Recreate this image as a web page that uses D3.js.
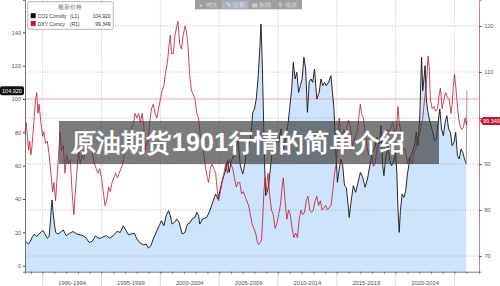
<!DOCTYPE html>
<html><head><meta charset="utf-8">
<script src="https://cdn.jsdelivr.net/npm/d3@7"></script>
<style>body{margin:0;background:#fff}svg{display:block}text{font-family:"Liberation Sans",Arial,sans-serif}</style>
</head><body><svg id="c" width="500" height="286"></svg>
<script>
// CO1 Comdty (left axis) — [decimal year, price]
const coData=[
[1988.5,15],[1988.65,14],[1988.8,13],[1988.95,14.5],[1989.1,17],[1989.3,19],[1989.5,17.5],[1989.7,19],[1989.9,20.5],[1990.05,21],[1990.2,19],[1990.4,16.5],[1990.55,17.5],[1990.65,26],[1990.75,36],[1990.8,39.5],[1990.9,31],[1991.0,25],[1991.1,20],[1991.3,19],[1991.5,20],[1991.75,21.5],[1992.0,18],[1992.3,19.5],[1992.6,20.5],[1992.9,19],[1993.2,18.5],[1993.45,18],[1993.7,16.5],[1993.95,14],[1994.2,14.5],[1994.5,18],[1994.7,16.5],[1994.9,16.5],[1995.2,17.5],[1995.4,18],[1995.7,16.5],[1996.0,18],[1996.3,20.5],[1996.6,20],[1996.85,24],[1997.1,21],[1997.3,18.5],[1997.5,19],[1997.8,19.5],[1998.0,16],[1998.3,13.5],[1998.6,12.5],[1998.8,13],[1999.0,10.5],[1999.2,12],[1999.4,16],[1999.7,21],[1999.9,24],[2000.1,27],[2000.3,24],[2000.5,30],[2000.7,33],[2000.85,30],[2001.0,25],[2001.2,26],[2001.4,28],[2001.6,26],[2001.85,19],[2002.1,20],[2002.3,25],[2002.5,25.5],[2002.7,28],[2002.95,29],[2003.1,32],[2003.25,30],[2003.35,25],[2003.6,28],[2003.95,29],[2004.2,33],[2004.45,38],[2004.7,43],[2004.9,40],[2005.1,46],[2005.3,52],[2005.5,56],[2005.7,63],[2005.85,56],[2006.0,62],[2006.2,66],[2006.4,71],[2006.6,75],[2006.8,60],[2007.0,55],[2007.1,58],[2007.3,67],[2007.5,72],[2007.7,78],[2007.85,92],[2008.0,94],[2008.15,100],[2008.3,112],[2008.45,130],[2008.55,145],[2008.65,125],[2008.75,95],[2008.85,62],[2008.95,42],[2009.08,44],[2009.2,48],[2009.35,58],[2009.5,68],[2009.7,70],[2009.9,76],[2010.05,74],[2010.25,82],[2010.45,70],[2010.65,77],[2010.85,85],[2011.0,95],[2011.15,105],[2011.3,122],[2011.45,112],[2011.6,116],[2011.75,104],[2011.9,108],[2012.05,112],[2012.2,125],[2012.35,118],[2012.5,92],[2012.65,110],[2012.8,112],[2012.95,110],[2013.1,118],[2013.3,100],[2013.5,104],[2013.65,112],[2013.8,108],[2013.95,110],[2014.1,108],[2014.3,110],[2014.5,114],[2014.6,106],[2014.75,95],[2014.9,70],[2015.05,50],[2015.2,58],[2015.35,64],[2015.5,60],[2015.65,48],[2015.8,47],[2015.95,37],[2016.05,29],[2016.2,38],[2016.4,48],[2016.6,44],[2016.8,50],[2017.0,56],[2017.2,53],[2017.4,47],[2017.6,52],[2017.8,60],[2018.0,68],[2018.2,70],[2018.4,77],[2018.6,73],[2018.75,84],[2018.9,60],[2019.0,54],[2019.15,65],[2019.35,72],[2019.5,63],[2019.65,60],[2019.8,62],[2020.0,68],[2020.1,55],[2020.2,33],[2020.3,20],[2020.4,33],[2020.55,43],[2020.7,41],[2020.85,45],[2021.0,55],[2021.2,64],[2021.4,68],[2021.6,72],[2021.75,80],[2021.9,72],[2022.05,90],[2022.2,125],[2022.3,105],[2022.4,112],[2022.5,120],[2022.6,100],[2022.7,94],[2022.85,88],[2023.0,84],[2023.15,80],[2023.3,75],[2023.45,76],[2023.6,86],[2023.75,94],[2023.9,82],[2024.05,78],[2024.2,86],[2024.35,90],[2024.5,82],[2024.65,80],[2024.8,72],[2024.95,74],[2025.1,80],[2025.25,66],[2025.4,64],[2025.55,70],[2025.7,68],[2025.85,64],[2026.0,61]
];
const coLast=[2026.05,104.92];
// DXY Curncy (right axis) — [decimal year, index]
const dxyData=[
[1988.5,97],[1988.6,99],[1988.7,96],[1988.8,93],[1988.9,95],[1989.0,92],[1989.1,94],[1989.25,99],[1989.4,104],[1989.5,105.5],[1989.6,101],[1989.7,103],[1989.85,99],[1990.0,96],[1990.1,97],[1990.25,94.5],[1990.4,95],[1990.55,92],[1990.7,88],[1990.85,84],[1990.95,86],[1991.1,82],[1991.25,88],[1991.4,94],[1991.5,97],[1991.6,93],[1991.75,94],[1991.9,88],[1992.05,92],[1992.2,90],[1992.35,91],[1992.5,84],[1992.65,79],[1992.75,83],[1992.9,88],[1993.05,93],[1993.2,90],[1993.35,92],[1993.5,91],[1993.65,94],[1993.8,93],[1993.95,95],[1994.1,94],[1994.25,92],[1994.4,90],[1994.55,89],[1994.7,88],[1994.85,89],[1995.0,87],[1995.15,84],[1995.3,81],[1995.45,82],[1995.6,85],[1995.75,84],[1995.9,86],[1996.05,87],[1996.2,88],[1996.35,87],[1996.5,88],[1996.65,89],[1996.8,90],[1996.95,92],[1997.1,95],[1997.25,96],[1997.4,95],[1997.55,98],[1997.7,98.5],[1997.85,101],[1998.0,100],[1998.15,101],[1998.3,99],[1998.45,101],[1998.6,98],[1998.7,93],[1998.8,94],[1998.95,95],[1999.1,99],[1999.25,102],[1999.4,103],[1999.55,101],[1999.7,100],[1999.85,102],[2000.0,104],[2000.15,106],[2000.3,107],[2000.45,110],[2000.6,112],[2000.75,116],[2000.85,118],[2000.95,114],[2001.1,114],[2001.25,118],[2001.4,120],[2001.5,121],[2001.65,116],[2001.8,115],[2001.95,118],[2002.1,120],[2002.2,119],[2002.35,116],[2002.5,109],[2002.65,106],[2002.8,105],[2002.95,104],[2003.1,101],[2003.25,100],[2003.4,96],[2003.55,95],[2003.7,92],[2003.85,89],[2004.0,87],[2004.1,86],[2004.25,89],[2004.4,90],[2004.55,89],[2004.7,88],[2004.85,84],[2004.95,82],[2005.1,84],[2005.25,86],[2005.4,88],[2005.55,90],[2005.7,88],[2005.85,91],[2006.0,90],[2006.15,89],[2006.3,87],[2006.45,85],[2006.6,86],[2006.75,86],[2006.9,83.5],[2007.05,84],[2007.2,83],[2007.35,82],[2007.5,81],[2007.65,79],[2007.8,77],[2007.95,76],[2008.1,75],[2008.25,73],[2008.35,72.5],[2008.5,73],[2008.6,73.5],[2008.7,78],[2008.8,84],[2008.9,87],[2009.0,84],[2009.15,88],[2009.3,83],[2009.45,80],[2009.6,79],[2009.75,76],[2009.9,77],[2010.05,79],[2010.2,81],[2010.35,85],[2010.45,87],[2010.6,82],[2010.75,78],[2010.9,80],[2011.05,79],[2011.2,76],[2011.35,74],[2011.5,75],[2011.65,74],[2011.8,78],[2011.95,80],[2012.1,79],[2012.25,79.5],[2012.4,82],[2012.55,83],[2012.7,80],[2012.85,79.5],[2013.0,80],[2013.15,82],[2013.3,83],[2013.45,81],[2013.6,82],[2013.75,80],[2013.9,80.5],[2014.05,81],[2014.2,80],[2014.35,80.5],[2014.5,81],[2014.65,84],[2014.8,88],[2014.95,90],[2015.1,95],[2015.2,100],[2015.3,97],[2015.45,96],[2015.6,97.5],[2015.75,95],[2015.9,99],[2016.0,99.5],[2016.15,98],[2016.3,94],[2016.45,95],[2016.6,96],[2016.75,97],[2016.9,101],[2017.0,103],[2017.1,101],[2017.25,100],[2017.4,97],[2017.55,94],[2017.7,92],[2017.85,93.5],[2017.95,92],[2018.1,89.5],[2018.25,90],[2018.4,93],[2018.55,95],[2018.7,95],[2018.85,96.5],[2019.0,96],[2019.15,96.5],[2019.3,97.5],[2019.45,97],[2019.6,98],[2019.75,99],[2019.9,97],[2020.05,97.5],[2020.2,102.5],[2020.3,99],[2020.45,97],[2020.6,93],[2020.75,93.5],[2020.9,92],[2021.0,90],[2021.15,91.5],[2021.3,91],[2021.4,90],[2021.55,92.5],[2021.7,93],[2021.85,96],[2022.0,96],[2022.15,98],[2022.3,100],[2022.45,104],[2022.6,107],[2022.75,113.5],[2022.85,111],[2022.95,104],[2023.1,102],[2023.25,102.5],[2023.4,101.5],[2023.55,102],[2023.7,105],[2023.8,106.5],[2023.95,102],[2024.1,104],[2024.25,105.5],[2024.4,104.5],[2024.55,104],[2024.7,101],[2024.8,103],[2024.9,107],[2025.0,109.5],[2025.1,107],[2025.2,104],[2025.35,100],[2025.5,98],[2025.6,97.5],[2025.75,98],[2025.9,100],[2026.0,98.5],[2026.05,99.35]
];
const leftTicks=[0,20,40,60,80,100,120,140];
const rightTicks=[70,80,90,100,110,120];
const rightLabelled=[70,80,90,110,120];
const periodBounds=[1990,1995,2000,2005,2010,2015,2020,2025];
const periodLabels=["1990-1994","1995-1999","2000-2004","2005-2009","2010-2014","2015-2019","2020-2024"];
const yearTicks=[1989,1990,1991,1992,1993,1994,1995,1996,1997,1998,1999,2000,2001,2002,2003,2004,2005,2006,2007,2008,2009,2010,2011,2012,2013,2014,2015,2016,2017,2018,2019,2020,2021,2022,2023,2024,2025,2026];
const refLevel=100;
const coLastLabel="104.920", dxyLastLabel="99.349", dxyLastValue=99.349;
const legendTitle="最新价格";
const legendNames=["CO1 Comdty","DXY Curncy"];
const legendAxes=["(L1)","(R1)"];
const legendValues=["104.920","99.349"];
const toolbarIcons=["+","✎","▤","⚲"];
const toolbarLabels=["对比","注释","新闻","缩放"];
const titleText="原油期货1901行情的简单介绍";

const svg=d3.select("#c");
const L=25,R=479,T=0,B=271.7;
const x=d3.scaleLinear().domain([1988.5,2027.08]).range([L,R]);
const yL=d3.scaleLinear().domain([-3.6,159.4]).range([B,T]);
const yR=d3.scaleLinear().domain([66.6,125.65]).range([B,T]);
const RED="#c4142f";

// grid
const g=svg.append("g");
g.selectAll(".vg").data(periodBounds).join("line")
 .attr("x1",d=>x(d)).attr("x2",d=>x(d)).attr("y1",T).attr("y2",B)
 .attr("stroke","#b8b8b8").attr("stroke-width",0.8).attr("stroke-dasharray","1,1.5");
g.selectAll(".vs").data(periodBounds).join("line")
 .attr("x1",d=>x(d)).attr("x2",d=>x(d)).attr("y1",B).attr("y2",286)
 .attr("stroke","#d0d0d0").attr("stroke-width",0.8);

// area + lines
svg.append("path").datum(coData)
 .attr("d",d3.area().x(d=>x(d[0])).y0(B).y1(d=>yL(d[1])))
 .attr("fill","#cde4fc");
const hg=svg.append("g");
hg.selectAll("line").data(rightTicks).join("line")
 .attr("x1",L).attr("x2",R).attr("y1",d=>yR(d)).attr("y2",d=>yR(d))
 .attr("stroke","#a9a9a9").attr("stroke-width",0.8).attr("stroke-dasharray","1,1.5");
svg.append("line").attr("x1",L).attr("x2",R).attr("y1",yL(refLevel)).attr("y2",yL(refLevel))
 .attr("stroke","#f3a3a6").attr("stroke-width",1);

svg.append("path").datum(coData)
 .attr("d",d3.line().x(d=>x(d[0])).y(d=>yL(d[1])))
 .attr("fill","none").attr("stroke","#111").attr("stroke-width",0.9).attr("stroke-linejoin","round");
svg.append("path").datum([coData[coData.length-1],coLast])
 .attr("d",d3.line().x(d=>x(d[0])).y(d=>yL(d[1])))
 .attr("fill","none").attr("stroke","#9a9a9a").attr("stroke-width",1);
svg.append("path").datum(dxyData)
 .attr("d",d3.line().x(d=>x(d[0])).y(d=>yR(d[1])))
 .attr("fill","none").attr("stroke",RED).attr("stroke-width",0.8).attr("stroke-linejoin","round");

// axes
const la=svg.append("g").attr("transform",`translate(${L},0)`)
 .call(d3.axisLeft(yL).tickValues(leftTicks).tickSize(2).tickPadding(2));
la.select(".domain").attr("stroke","#555").attr("stroke-width",0.8);
la.selectAll(".tick line").attr("stroke","#444");
la.selectAll("text").attr("font-size",5.5).attr("fill","#555").attr("font-family","Liberation Sans, Arial, sans-serif");

const ra=svg.append("g").attr("transform",`translate(${R},0)`)
 .call(d3.axisRight(yR).tickValues(rightTicks).tickSize(2.5).tickPadding(3)
   .tickFormat(d=>rightLabelled.includes(d)?d:""));
ra.select(".domain").attr("stroke","#d06070").attr("stroke-width",0.8);
ra.selectAll(".tick line").attr("stroke",RED);
ra.selectAll("text").attr("font-size",5.5).attr("fill","#555").attr("font-family","Liberation Sans, Arial, sans-serif");

const ba=svg.append("g").attr("transform",`translate(0,${B})`)
 .call(d3.axisBottom(x).tickValues(yearTicks).tickSize(2).tickFormat(""));
ba.select(".domain").attr("stroke","#555").attr("stroke-width",0.8);
ba.selectAll(".tick line").attr("stroke","#666");
svg.selectAll(".pl").data(periodLabels).join("text")
 .attr("x",(d,i)=>(x(periodBounds[i])+x(periodBounds[i+1]))/2).attr("y",285)
 .attr("text-anchor","middle").attr("font-size",5.8).attr("fill","#555").text(d=>d);

// last-value labels
svg.append("rect").attr("x",0).attr("y",yL(104.92)-4.5).attr("width",24).attr("height",9).attr("rx",2).attr("fill","#111");
svg.append("text").attr("x",12).attr("y",yL(104.92)+2).attr("text-anchor","middle").attr("font-size",5.5).attr("fill","#fff").text(coLastLabel);
svg.append("path").attr("d",`M${R+1},${yR(dxyLastValue)} l3,-4 h18 v8 h-18 z`).attr("fill",RED);
svg.append("text").attr("x",R+4).attr("y",yR(dxyLastValue)+2).attr("font-size",5.5).attr("fill","#fff").text(dxyLastLabel);

// legend
const lg=svg.append("g");
lg.append("rect").attr("x",27.7).attr("y",1.7).attr("width",85.6).attr("height",27.6).attr("rx",2)
 .attr("fill","#fff").attr("fill-opacity",0.92).attr("stroke","#9a9a9a").attr("stroke-width",0.7);
lg.append("text").attr("x",70).attr("y",9.3).attr("text-anchor","middle").attr("font-size",5.5).attr("fill","#777")
 .attr("font-family","Noto Sans CJK SC").text(legendTitle);
const legColors=["#111",RED];
legendNames.forEach((n,i)=>{
  const yy=16+i*7.7;
  lg.append("rect").attr("x",30.7).attr("y",yy-2.8).attr("width",5).attr("height",5).attr("fill",legColors[i]);
  lg.append("text").attr("x",37.7).attr("y",yy+2).attr("font-size",5).attr("fill","#333").text(n);
  lg.append("text").attr("x",70).attr("y",yy+2).attr("font-size",5).attr("fill","#333").text(legendAxes[i]);
  lg.append("text").attr("x",110.5).attr("y",yy+2).attr("text-anchor","end").attr("font-size",5).attr("fill","#333").text(legendValues[i]);
});

// toolbar
const tb=svg.append("g");
tb.append("rect").attr("x",195).attr("y",0).attr("width",107).attr("height",9.3).attr("fill","#8e8e8e").attr("fill-opacity",0.85);
tb.append("rect").attr("x",221.7).attr("y",0.6).attr("width",26.6).attr("height",8.2).attr("fill","#a8b4c2");
const tbX=[199,226,252,278];
toolbarLabels.forEach((t,i)=>{
  tb.append("text").attr("x",tbX[i]).attr("y",7).attr("font-size",6).attr("fill","#e6e6e6").text(toolbarIcons[i]);
  tb.append("text").attr("x",tbX[i]+7).attr("y",7).attr("font-size",5.5).attr("fill","#dcdcdc").attr("font-family","Noto Sans CJK SC").text(t);
});

// title overlay
svg.append("rect").attr("x",59).attr("y",121).attr("width",380).attr("height",43).attr("fill","#3c3c3c").attr("fill-opacity",0.68);
svg.append("text").attr("x",70.5).attr("y",151).attr("font-size",25).attr("font-weight","bold").attr("letter-spacing",0.3)
 .attr("font-family","Noto Sans CJK SC").attr("fill","#fff").text(titleText);
</script></body></html>
